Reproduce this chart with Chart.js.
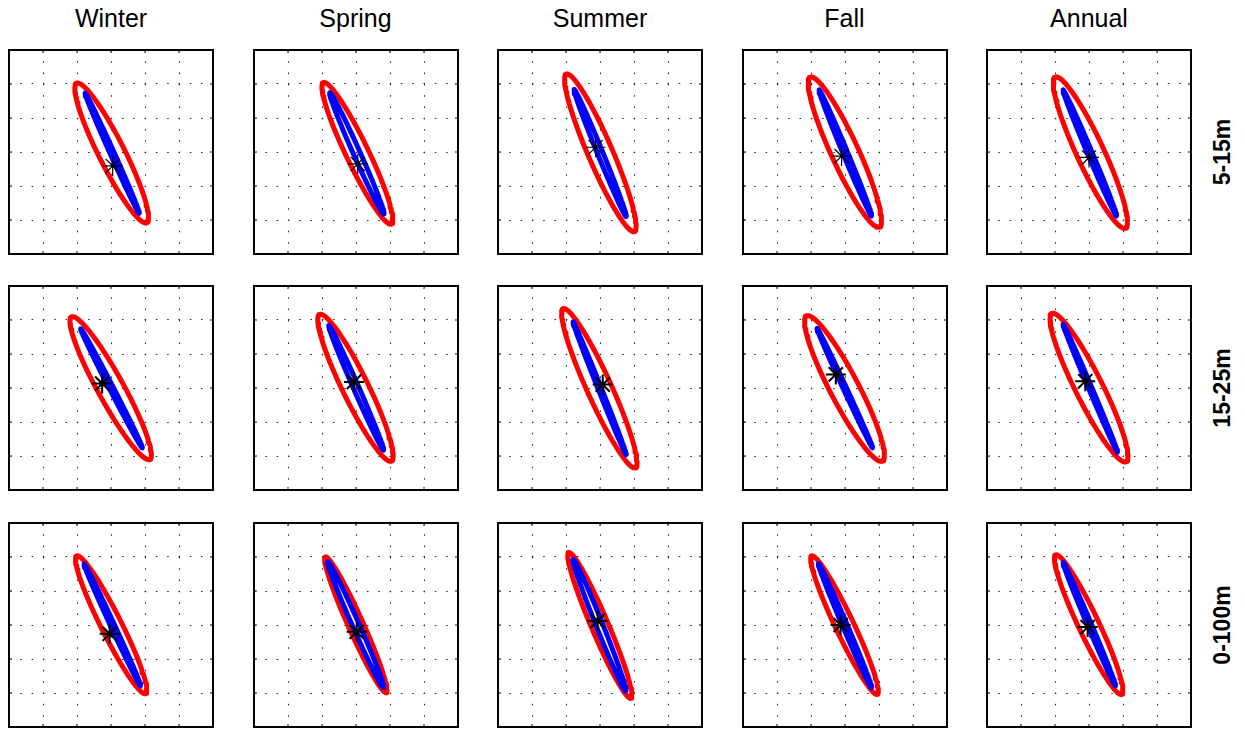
<!DOCTYPE html>
<html>
<head>
<meta charset="utf-8">
<script src="https://cdn.jsdelivr.net/npm/chart.js@4.4.1/dist/chart.umd.min.js"></script>
<style>
body { margin: 0; background: #fff; width: 1245px; height: 730px; position: relative; overflow: hidden;
       font-family: Arial, "Liberation Sans", Helvetica, sans-serif; color: #000; }
.panel { position: absolute; width: 208px; height: 208px; }
.season { position: absolute; top: 6px; width: 204px; text-align: center; font-size: 25px; line-height: 25px; }
.depth { position: absolute; left: 1222px; transform: translate(-50%, -50%) rotate(-90deg);
         font-weight: bold; font-size: 23px; white-space: nowrap; }
</style>
</head>
<body>
<script>
// Panels: rows = depth ranges, columns = seasons
const seasons = ['Winter', 'Spring', 'Summer', 'Fall', 'Annual'];
const depths = ['5-15m', '15-25m', '0-100m'];
const axisMin = -3, axisMax = 3, gridStep = 1;

// outer (red) ellipse: ends of the major axis [x1, y1, x2, y2] and half of the minor axis
const redTips = [
    [[-1.01, 2.02, 1.05, -2.08], [-0.96, 2.04, 1.04, -2.12], [-0.99, 2.29, 1.01, -2.34], [-1.02, 2.20, 1.01, -2.21], [-0.99, 2.20, 1.07, -2.24]],
    [[-1.16, 2.09, 1.14, -2.10], [-1.07, 2.16, 1.04, -2.15], [-1.08, 2.33, 1.04, -2.35], [-1.13, 2.12, 1.10, -2.15], [-1.09, 2.19, 1.09, -2.17]],
    [[-1.01, 2.03, 1.02, -2.02], [-0.90, 2.00, 0.89, -1.99], [-0.92, 2.13, 0.91, -2.16], [-0.98, 2.03, 0.95, -2.04], [-0.98, 2.06, 0.96, -2.04]]
];
const redHalfWidth = [
    [0.38, 0.33, 0.36, 0.40, 0.40],
    [0.38, 0.38, 0.36, 0.42, 0.40],
    [0.30, 0.22, 0.25, 0.27, 0.30]
];

// inner (blue) ellipse
const blueTips = [
    [[-0.76, 1.73, 0.83, -1.80], [-0.77, 1.74, 0.82, -1.82], [-0.76, 1.84, 0.77, -1.90], [-0.76, 1.82, 0.78, -1.88], [-0.76, 1.82, 0.81, -1.88]],
    [[-0.89, 1.74, 0.92, -1.76], [-0.80, 1.84, 0.81, -1.83], [-0.79, 1.94, 0.77, -1.96], [-0.82, 1.75, 0.81, -1.76], [-0.76, 1.87, 0.84, -1.89]],
    [[-0.79, 1.79, 0.87, -1.79], [-0.83, 1.86, 0.81, -1.84], [-0.79, 1.93, 0.76, -1.94], [-0.78, 1.80, 0.78, -1.84], [-0.76, 1.83, 0.78, -1.79]]
];
const blueHalfWidth = [
    [0.06, 0.10, 0.08, 0.07, 0.07],
    [0.06, 0.08, 0.05, 0.05, 0.05],
    [0.06, 0.10, 0.10, 0.07, 0.06]
];

// mean position (asterisk)
const starX = [
    [0.05, 0.05, -0.13, -0.10, 0.00],
    [-0.26, -0.06, 0.08, -0.27, -0.11],
    [-0.04, 0.02, -0.07, -0.13, -0.04]
];
const starY = [
    [-0.41, -0.35, 0.14, -0.12, -0.16],
    [0.13, 0.18, 0.10, 0.40, 0.20],
    [-0.26, -0.20, 0.12, 0.00, -0.06]
];

function ellipsePoints(tips, b) {
    const [x1, y1, x2, y2] = tips;
    const cx = (x1 + x2) / 2, cy = (y1 + y2) / 2;
    const a = Math.hypot(x2 - x1, y2 - y1) / 2;
    const phi = Math.atan2(y1 - y2, x1 - x2);
    const pts = [];
    for (let i = 0; i <= 120; i++) {
        const t = i / 120 * 2 * Math.PI;
        pts.push({
            x: cx + a * Math.cos(t) * Math.cos(phi) - b * Math.sin(t) * Math.sin(phi),
            y: cy + a * Math.cos(t) * Math.sin(phi) + b * Math.sin(t) * Math.cos(phi)
        });
    }
    return pts;
}

// box round the plot area with small inward ticks
const boxPlugin = {
    id: 'box',
    afterDraw(chart) {
        const { ctx, chartArea: a, scales } = chart;
        ctx.save();
        ctx.strokeStyle = '#000';
        ctx.lineWidth = 1;
        ctx.beginPath();
        scales.x.ticks.forEach(t => {
            const px = scales.x.getPixelForValue(t.value);
            ctx.moveTo(px, a.top); ctx.lineTo(px, a.top + 3);
            ctx.moveTo(px, a.bottom); ctx.lineTo(px, a.bottom - 3);
        });
        scales.y.ticks.forEach(t => {
            const py = scales.y.getPixelForValue(t.value);
            ctx.moveTo(a.left, py); ctx.lineTo(a.left + 3, py);
            ctx.moveTo(a.right, py); ctx.lineTo(a.right - 3, py);
        });
        ctx.stroke();
        ctx.lineWidth = 2;
        ctx.strokeRect(a.left, a.top, a.right - a.left, a.bottom - a.top);
        ctx.restore();
    }
};

function axis() {
    return {
        type: 'linear', min: axisMin, max: axisMax,
        ticks: { display: false, stepSize: gridStep },
        grid: { color: '#222', lineWidth: 1, drawTicks: false },
        border: { display: false, dash: [1.5, 9.8] }
    };
}

const colLeft = 9, colStep = 244.5, rowTop = 50, rowStep = 236.3, boxSize = 204;

seasons.forEach((s, c) => {
    const d = document.createElement('div');
    d.className = 'season';
    d.style.left = (colLeft + c * colStep) + 'px';
    d.textContent = s;
    document.body.appendChild(d);
});

depths.forEach((name, r) => {
    const d = document.createElement('div');
    d.className = 'depth';
    d.style.top = (rowTop + r * rowStep + boxSize / 2) + 'px';
    d.textContent = name;
    document.body.appendChild(d);

    seasons.forEach((s, c) => {
        const wrap = document.createElement('div');
        wrap.className = 'panel';
        wrap.style.left = (colLeft + c * colStep - 2) + 'px';
        wrap.style.top = (rowTop + r * rowStep - 2) + 'px';
        const cv = document.createElement('canvas');
        cv.width = 208; cv.height = 208;
        wrap.appendChild(cv);
        document.body.appendChild(wrap);

        new Chart(cv, {
            type: 'scatter',
            data: {
                datasets: [
                    {
                        data: [{ x: starX[r][c], y: starY[r][c] }],
                        pointStyle: 'star', pointRadius: 10, borderColor: '#000',
                        borderWidth: r === 0 ? 1.2 : 2, order: 0
                    },
                    {
                        data: ellipsePoints(blueTips[r][c], blueHalfWidth[r][c]),
                        showLine: true, borderColor: '#0000ff', borderWidth: 5, pointRadius: 0,
                        borderJoinStyle: 'round', borderCapStyle: 'round', tension: 0, order: 1
                    },
                    {
                        data: ellipsePoints(redTips[r][c], redHalfWidth[r][c]),
                        showLine: true, borderColor: '#ff0000', borderWidth: 5, pointRadius: 0,
                        borderJoinStyle: 'round', borderCapStyle: 'round', tension: 0, order: 2
                    }
                ]
            },
            options: {
                responsive: false,
                animation: false,
                events: [],
                layout: { padding: 2, autoPadding: false },
                plugins: { legend: { display: false }, tooltip: { enabled: false } },
                scales: { x: axis(), y: axis() }
            },
            plugins: [boxPlugin]
        });
    });
});
</script>
</body>
</html>
